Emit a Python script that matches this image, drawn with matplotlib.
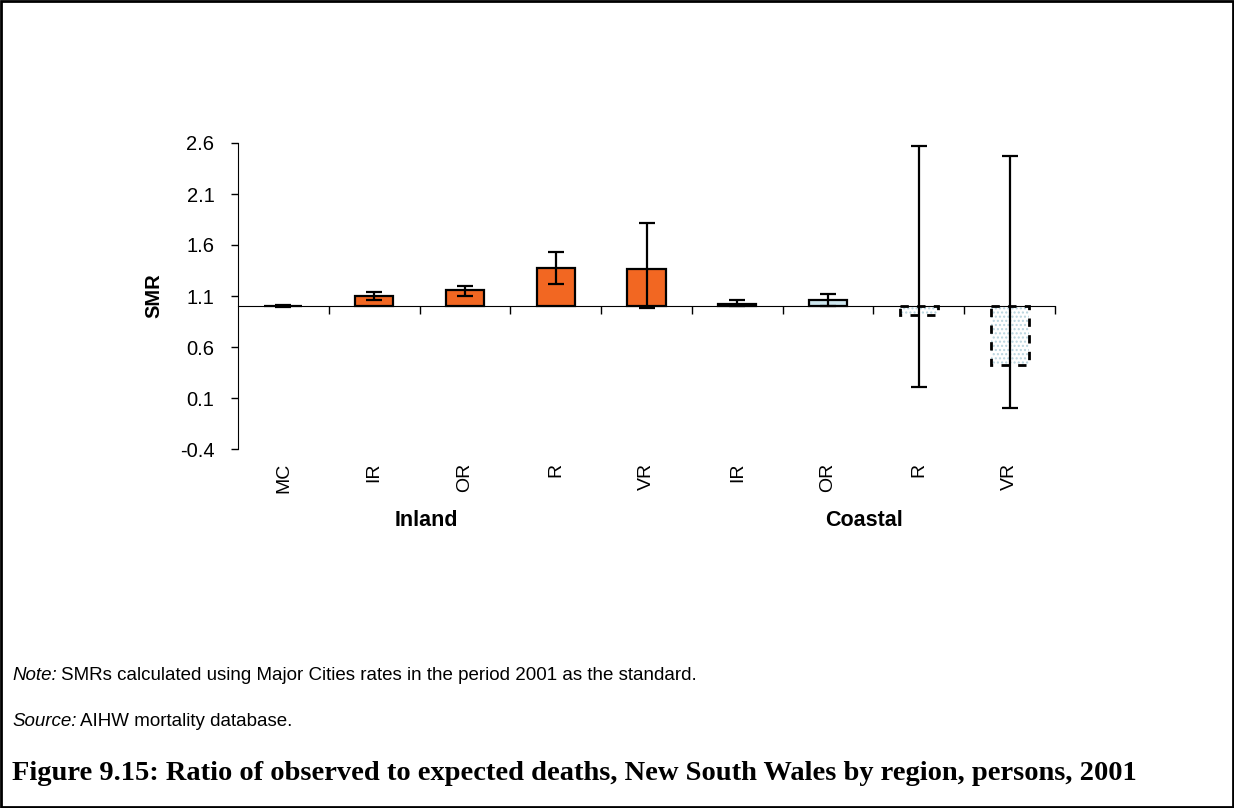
import matplotlib
matplotlib.use('Agg')
from matplotlib import pyplot as plt
from matplotlib.patches import Rectangle

categories = ['MC', 'IR', 'OR', 'R', 'VR', 'IR', 'OR', 'R', 'VR']
smr = [1.005, 1.10, 1.16, 1.37, 1.36, 1.02, 1.06, 0.91, 0.42]
ci_low = [0.99, 1.06, 1.10, 1.22, 0.98, 1.00, 1.00, 0.21, 0.00]
ci_high = [1.01, 1.14, 1.20, 1.53, 1.82, 1.06, 1.12, 2.57, 2.47]
groups = ['Inland', 'Coastal']
group_pos = [1.575, 6.4]
y_ticks = [-0.4, 0.1, 0.6, 1.1, 1.6, 2.1, 2.6]

orange = '#F26722'
lightblue = '#CDE6EE'
face = [orange, orange, orange, orange, orange, 'black', lightblue, 'white', 'white']
dashed = [False] * 7 + [True, True]

plt.rcParams['font.family'] = ['Liberation Sans', 'DejaVu Sans']

fig = plt.figure(figsize=(12.34, 8.08), dpi=100)
ax = fig.add_axes([238 / 1234, 1 - 449 / 808, 817 / 1234, 306 / 808])

base = 1.0
x = list(range(len(categories)))
heights = [v - base for v in smr]
w = 0.42

for i in x:
    if dashed[i]:
        # dotted fill then dashed outline
        ax.bar(i, heights[i], w, bottom=base, color='white', edgecolor='#B8D4DE',
               hatch='....', linewidth=0, zorder=2)
        ax.bar(i, heights[i], w, bottom=base, fill=False, edgecolor='black',
               linewidth=2, linestyle=(0, (3, 3)), zorder=3)
    else:
        ax.bar(i, heights[i], w, bottom=base, color=face[i], edgecolor='black',
               linewidth=1.6, zorder=2)

yerr = [[v - lo for v, lo in zip(smr, ci_low)], [hi - v for v, hi in zip(smr, ci_high)]]
ax.errorbar(x, smr, yerr=yerr, fmt='none', ecolor='black', elinewidth=1.6,
            capsize=5.5, capthick=1.6, zorder=4)

ax.set_xlim(-0.5, 8.5)
ax.set_ylim(-0.4, 2.6)
ax.set_yticks(y_ticks)
ax.set_yticklabels(['%.1f' % t for t in y_ticks], fontsize=14.5)
ax.set_xticks([i + 0.5 for i in x])
ax.set_xticklabels([])
ax.tick_params(axis='x', direction='out', length=6, width=1)
ax.tick_params(axis='y', direction='out', length=5, width=1, pad=12)

ax.spines['top'].set_visible(False)
ax.spines['right'].set_visible(False)
ax.spines['bottom'].set_position(('data', base))

trans = ax.get_xaxis_transform()
for i, c in zip(x, categories):
    ax.text(i, -0.045, c, rotation=90, ha='center', va='top', fontsize=14, transform=trans)
for g, p in zip(groups, group_pos):
    ax.text(p, -0.2, g, ha='center', va='top', fontsize=15.5, fontweight='bold', transform=trans)

ax.set_ylabel('SMR', fontsize=14.5, fontweight='bold', labelpad=12)

renderer = fig.canvas.get_renderer()


def note_line(ypix, head, body):
    t = fig.text(12 / 1234, 1 - ypix / 808, head, fontsize=13.5, style='italic', va='center')
    bb = t.get_window_extent(renderer)
    fig.text((bb.x1 + 4) / 1234, 1 - ypix / 808, body, fontsize=13.5, va='center')


note_line(676, 'Note:', 'SMRs calculated using Major Cities rates in the period 2001 as the standard.')
note_line(722, 'Source:', 'AIHW mortality database.')

fig.text(12 / 1234, 1 - 773 / 808,
         'Figure 9.15: Ratio of observed to expected deaths, New South Wales by region, persons, 2001',
         fontsize=20.5, fontweight='bold', family=['Liberation Serif', 'DejaVu Serif'], va='center')

fig.patches.append(Rectangle((0.001, 0.001), 0.998, 0.998, transform=fig.transFigure,
                             fill=False, edgecolor='black', linewidth=2))

plt.savefig('out.png', dpi=100)
